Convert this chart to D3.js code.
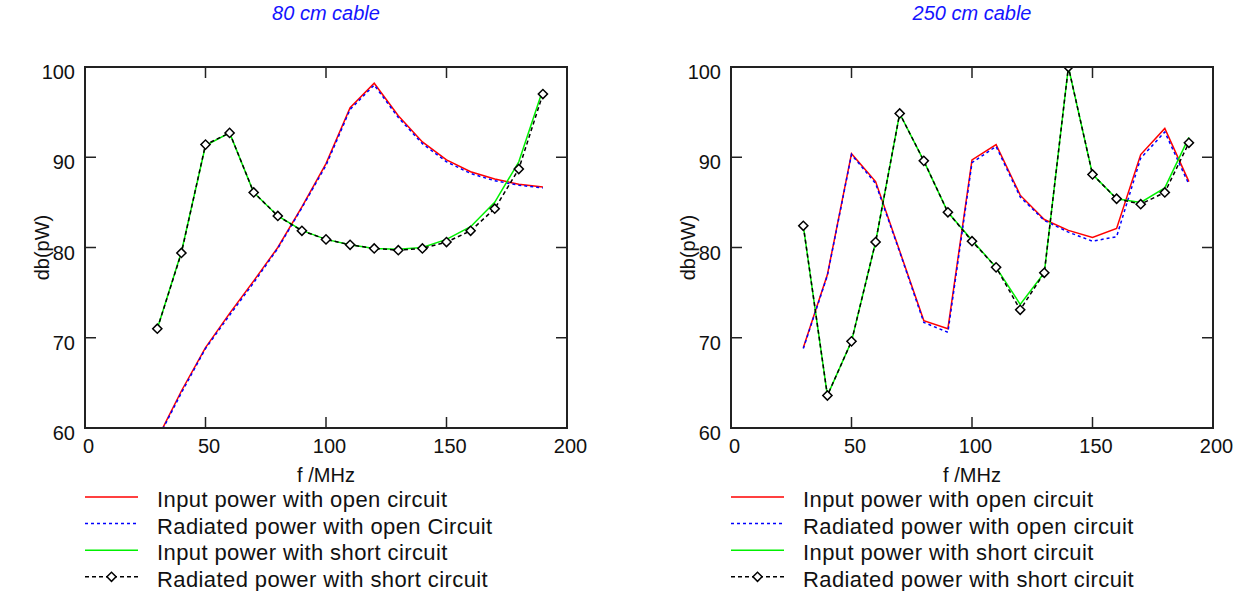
<!DOCTYPE html>
<html>
<head>
  <meta charset="utf-8">
  <script src="https://d3js.org/d3.v7.min.js"></script>
  <style type="text/css">
    body { margin: 0; background: #fff; }
    text { font-family: "Liberation Sans", Arial, sans-serif; fill: #111; }
    .title { font-size: 20px; font-style: italic; fill: #1414ff; }
    .tick-label, .axis-title { font-size: 20px; }
    .legend-text { font-size: 22px; letter-spacing: 0.4px; }
  </style>
</head>
<body>
<script type="text/javascript">

// Frequencies (MHz)
var freq = [30, 40, 50, 60, 70, 80, 90, 100, 110, 120, 130, 140, 150, 160, 170, 180, 190];

// 80 cm cable
var inOpen80   = [58.8, 64.1, 68.9, 72.7, 76.3, 80.0, 84.5, 89.3, 95.5, 98.2, 94.6, 91.7, 89.7, 88.4, 87.6, 87.0, 86.7];
var radOpen80  = [58.7, 63.9, 68.8, 72.5, 76.1, 79.9, 84.4, 89.1, 95.3, 98.0, 94.4, 91.5, 89.5, 88.2, 87.4, 86.9, 86.6];
var inShort80  = [71.0, 79.5, 91.3, 92.7, 86.1, 83.5, 81.9, 80.9, 80.3, 79.9, 79.8, 80.0, 80.9, 82.3, 85.0, 89.5, 97.5];
var radShort80 = [71.0, 79.4, 91.4, 92.7, 86.1, 83.5, 81.85, 80.9, 80.3, 79.9, 79.7, 79.9, 80.6, 81.85, 84.3, 88.7, 97.0];

// 250 cm cable
var inOpen250   = [68.9, 77.0, 90.4, 87.3, 79.6, 71.9, 71.0, 89.7, 91.4, 85.8, 83.1, 81.9, 81.1, 82.1, 90.3, 93.2, 87.3];
var radOpen250  = [68.8, 76.9, 90.3, 87.1, 79.5, 71.7, 70.6, 89.4, 91.2, 85.6, 83.0, 81.7, 80.7, 81.2, 89.9, 92.8, 87.0];
var inShort250  = [82.4, 63.6, 69.6, 80.6, 94.85, 89.6, 83.9, 80.8, 77.8, 73.7, 77.2, 100.0, 88.1, 85.4, 85.0, 86.6, 92.2];
var radShort250 = [82.4, 63.6, 69.6, 80.6, 94.85, 89.6, 83.9, 80.7, 77.8, 73.1, 77.2, 100.0, 88.1, 85.4, 84.8, 86.1, 91.6];

// Axis ticks
var xTicks = [0, 50, 100, 150, 200];
var yTicks = [60, 70, 80, 90, 100];

var legendLeft  = ["Input power with open circuit", "Radiated power with open Circuit",
                   "Input power with short circuit", "Radiated power with short circuit"];
var legendRight = ["Input power with open circuit", "Radiated power with open circuit",
                   "Input power with short circuit", "Radiated power with short circuit"];

var width = 1234, height = 591,
    plotW = 482, plotTop = 67, plotBottom = 428,
    tickLen = 11;

var svg = d3.select("body").append("svg")
    .attr("width", width)
    .attr("height", height);

// series styles: red solid, blue dashed, green solid, black dashed + diamonds
var styles = [
  {color: "#ff0000", dash: null,  marker: false},
  {color: "#0000ff", dash: "3,3", marker: false},
  {color: "#00f000", dash: null,  marker: false},
  {color: "#000000", dash: "4,3", marker: true}
];

var diamond = d3.symbol().type(d3.symbolSquare).size(42);

function drawPanel(left, id, title, series, legend) {
  var x = d3.scaleLinear().domain([0, 200]).range([left, left + plotW]);
  var y = d3.scaleLinear().domain([60, 100]).range([plotBottom, plotTop]);
  var g = svg.append("g");

  //Title
  g.append("text")
    .attr("class", "title")
    .attr("x", left + plotW / 2)
    .attr("y", 20)
    .attr("text-anchor", "middle")
    .text(title);

  //Clip to plot area
  svg.append("clipPath").attr("id", id)
    .append("rect")
    .attr("x", left).attr("y", plotTop)
    .attr("width", plotW).attr("height", plotBottom - plotTop);

  var line = d3.line()
    .x(function(d) { return x(d[0]); })
    .y(function(d) { return y(d[1]); });

  var plot = g.append("g").attr("clip-path", "url(#" + id + ")");

  series.forEach(function(vals, i) {
    var pts = freq.map(function(f, j) { return [f, vals[j]]; });
    plot.append("path")
      .attr("d", line(pts))
      .attr("fill", "none")
      .attr("stroke", styles[i].color)
      .attr("stroke-width", 1.5)
      .attr("stroke-dasharray", styles[i].dash);
    if (styles[i].marker) {
      plot.selectAll(".mk").data(pts).enter().append("path")
        .attr("d", diamond)
        .attr("transform", function(d) { return "translate(" + x(d[0]) + "," + y(d[1]) + ") rotate(45)"; })
        .attr("fill", "#fff")
        .attr("stroke", "#000")
        .attr("stroke-width", 1.5);
    }
  });

  //Frame
  g.append("rect")
    .attr("x", left).attr("y", plotTop)
    .attr("width", plotW).attr("height", plotBottom - plotTop)
    .attr("fill", "none")
    .attr("stroke", "#222")
    .attr("stroke-width", 2);

  //Inward ticks on all four sides
  xTicks.forEach(function(t) {
    g.append("line").attr("x1", x(t)).attr("x2", x(t))
      .attr("y1", plotBottom).attr("y2", plotBottom - tickLen)
      .attr("stroke", "#222").attr("stroke-width", 1.5);
    g.append("line").attr("x1", x(t)).attr("x2", x(t))
      .attr("y1", plotTop).attr("y2", plotTop + tickLen)
      .attr("stroke", "#222").attr("stroke-width", 1.5);
    g.append("text")
      .attr("class", "tick-label")
      .attr("x", x(t) + 3.5)
      .attr("y", plotBottom + 25)
      .attr("text-anchor", "middle")
      .text(t);
  });
  yTicks.forEach(function(t) {
    g.append("line").attr("x1", left).attr("x2", left + tickLen)
      .attr("y1", y(t)).attr("y2", y(t))
      .attr("stroke", "#222").attr("stroke-width", 1.5);
    g.append("line").attr("x1", left + plotW).attr("x2", left + plotW - tickLen)
      .attr("y1", y(t)).attr("y2", y(t))
      .attr("stroke", "#222").attr("stroke-width", 1.5);
    g.append("text")
      .attr("class", "tick-label")
      .attr("x", left - 10)
      .attr("y", y(t) + 12)
      .attr("text-anchor", "end")
      .text(t);
  });

  //Axis titles
  g.append("text")
    .attr("class", "axis-title")
    .attr("x", left + plotW / 2)
    .attr("y", 482)
    .attr("text-anchor", "middle")
    .text("f /MHz");
  g.append("text")
    .attr("class", "axis-title")
    .attr("transform", "translate(" + (left - 36) + "," + ((plotTop + plotBottom) / 2) + ") rotate(-90)")
    .attr("text-anchor", "middle")
    .text("db(pW)");

  //Legend
  legend.forEach(function(name, i) {
    var ly = 497 + i * 26.6;
    g.append("line")
      .attr("x1", left).attr("x2", left + 53)
      .attr("y1", ly).attr("y2", ly)
      .attr("stroke", styles[i].color)
      .attr("stroke-width", 1.5)
      .attr("stroke-dasharray", styles[i].dash);
    if (styles[i].marker) {
      g.append("path")
        .attr("d", diamond)
        .attr("transform", "translate(" + (left + 26.5) + "," + ly + ") rotate(45)")
        .attr("fill", "#fff")
        .attr("stroke", "#000")
        .attr("stroke-width", 1.5);
    }
    g.append("text")
      .attr("class", "legend-text")
      .attr("x", left + 72)
      .attr("y", ly + 10)
      .text(name);
  });
}

drawPanel(85, "clipL", "80 cm cable", [inOpen80, radOpen80, inShort80, radShort80], legendLeft);
drawPanel(731, "clipR", "250 cm cable", [inOpen250, radOpen250, inShort250, radShort250], legendRight);

</script>
</body>
</html>
